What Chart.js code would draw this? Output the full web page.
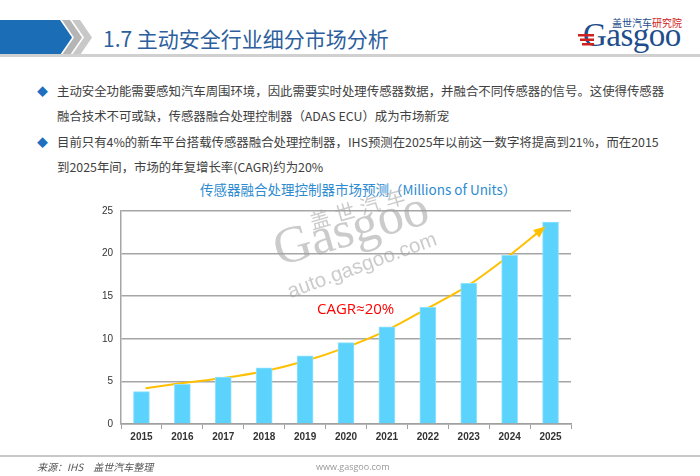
<!DOCTYPE html>
<html>
<head>
<meta charset="utf-8">
<script src="https://cdn.jsdelivr.net/npm/chart.js@4.4.0/dist/chart.umd.min.js"></script>
<style>
  html, body { margin: 0; padding: 0; background: #fff; }
  body { width: 700px; height: 476px; position: relative; overflow: hidden; font-family: "Noto Sans CJK SC", "Open Sans", sans-serif; }
  .abs { position: absolute; }
  #head-title { left: 103px; top: 23px; font-size: 21px; color: #2d5f9e; white-space: nowrap; }
  .dia { left: 37px; color: #1f6fc0; font-size: 11px; }
  .line { left: 57px; font-size: 12.4px; color: #404040; white-space: nowrap; }
  #chart-title { left: 200px; width: 297px; top: 179px; text-align: center; font-size: 13.5px; color: #2e8bd0; white-space: nowrap; }
  #chart-box { left: 80px; top: 195px; width: 510px; height: 250px; }
  #wm { left: 0; top: 0; width: 700px; height: 476px; pointer-events: none; }
  #foot-src { left: 37px; top: 459px; font-size: 10px; font-style: italic; color: #555; }
  #foot-web { left: 316px; top: 460px; font-size: 9px; color: #999; font-family: "Open Sans", sans-serif; }
</style>
</head>
<body>
<svg class="abs" style="left:0;top:0" width="700" height="70">
  <polygon points="0,20 60,20 72,37.5 60,55 0,55" fill="#1b6db6"/>
  <polygon points="62,20 70,20 82,37.5 70,55 62,55 74,37.5" fill="#b5b5b5"/>
  <polygon points="72,20 80,20 92,37.5 80,55 72,55 84,37.5" fill="#c8c8c8"/>
  <rect x="0" y="54" width="700" height="3" fill="#d0d0d0"/>
  <text x="612" y="27" font-size="10" fill="#1f4e8c" font-family="Noto Sans CJK SC">盖世汽车</text>
  <text x="652" y="27" font-size="10" fill="#d02020" font-family="Noto Sans CJK SC">研究院</text>
  <text x="583" y="46" font-size="33" fill="#1f4e8c" font-family="Liberation Serif" letter-spacing="-0.5">Gasgoo</text>
  <rect x="578" y="34" width="16" height="2.5" fill="#d02020"/>
  <rect x="580" y="38.5" width="14" height="2.5" fill="#d02020"/>
  <rect x="582" y="43" width="12" height="2.5" fill="#d02020"/>
</svg>
<div id="head-title" class="abs">1.7 主动安全行业细分市场分析</div>

<div class="abs dia" style="top:83px">◆</div>
<div class="abs line" style="top:82px">主动安全功能需要感知汽车周围环境，因此需要实时处理传感器数据，并融合不同传感器的信号。这使得传感器</div>
<div class="abs line" style="top:107px">融合技术不可或缺，传感器融合处理控制器（ADAS ECU）成为市场新宠</div>
<div class="abs dia" style="top:134px">◆</div>
<div class="abs line" style="top:133px">目前只有4%的新车平台搭载传感器融合处理控制器，IHS预测在2025年以前这一数字将提高到21%，而在2015</div>
<div class="abs line" style="top:158px">到2025年间，市场的年复增长率(CAGR)约为20%</div>

<div id="chart-title" class="abs">传感器融合处理控制器市场预测（Millions of Units）</div>
<div id="chart-box" class="abs"><canvas id="bar-chart"></canvas></div>

<svg id="wm" class="abs">
  <g transform="translate(279,266) rotate(-16)" fill="#a0a0a0" fill-opacity="0.55">
    <text x="0" y="0" font-size="52" font-family="Liberation Serif">Gasgoo</text>
    <text x="42" y="-26" font-size="20" font-family="Noto Sans CJK SC" letter-spacing="6">盖世汽车</text>
    <text x="2" y="34" font-size="20.5" font-family="Liberation Sans" transform="rotate(-4 2 34)">auto.gasgoo.com</text>
  </g>
</svg>

<svg class="abs" style="left:0;top:454px" width="700" height="4"><rect x="0" y="1" width="700" height="2" fill="#c8c8c8"/></svg>
<div id="foot-src" class="abs">来源：IHS　盖世汽车整理</div>
<div id="foot-web" class="abs">www.gasgoo.com</div>

<script>
const years = ['2015', '2016', '2017', '2018', '2019', '2020', '2021', '2022', '2023', '2024', '2025'];
const units = [3.8, 4.65, 5.5, 6.6, 8.0, 9.55, 11.4, 13.7, 16.5, 19.8, 23.7];

// CAGR trend curve, x as category index
const trendX = [0.1, 1, 2, 3, 4, 5, 6, 7, 8, 9, 9.8];
const trendY = [4.2, 4.8, 5.4, 6.2, 7.4, 9.0, 11.0, 13.6, 16.3, 19.8, 22.9];

const yTicks = [0, 5, 10, 15, 20, 25];

// arrow head + CAGR label
const trendExtras = {
  id: 'trendExtras',
  afterDatasetsDraw(chart) {
    const ctx = chart.ctx;
    const pts = chart.getDatasetMeta(1).data;
    const a = pts[pts.length - 2], b = pts[pts.length - 1];
    const ang = Math.atan2(b.y - a.y, b.x - a.x);
    ctx.save();
    ctx.fillStyle = '#ffc000';
    ctx.translate(b.x, b.y);
    ctx.rotate(ang);
    ctx.beginPath();
    ctx.moveTo(4, 0);
    ctx.lineTo(-8, -5);
    ctx.lineTo(-8, 5);
    ctx.closePath();
    ctx.fill();
    ctx.restore();

    const xs = chart.scales.x2, ys = chart.scales.y;
    ctx.save();
    ctx.fillStyle = '#ff0000';
    ctx.font = '15px "Open Sans", sans-serif';
    ctx.textAlign = 'left';
    ctx.textBaseline = 'middle';
    ctx.fillText('CAGR≈20%', xs.getPixelForValue(4.29), ys.getPixelForValue(13.4));
    ctx.restore();
  }
};

new Chart(document.getElementById('bar-chart'), {
  data: {
    labels: years,
    datasets: [
      {
        type: 'bar',
        data: units,
        backgroundColor: '#5cd3fd',
        borderColor: '#8fe2ff',
        borderWidth: 1,
        barThickness: 16,
        grouped: false
      },
      {
        type: 'line',
        xAxisID: 'x2',
        data: trendX.map((x, i) => ({ x: x, y: trendY[i] })),
        borderColor: '#ffc000',
        borderWidth: 2,
        pointRadius: 0,
        cubicInterpolationMode: 'monotone',
        fill: false
      }
    ]
  },
  options: {
    responsive: true,
    maintainAspectRatio: false,
    animation: false,
    layout: { padding: { left: 0, right: 19, top: 16, bottom: 0 } },
    plugins: {
      legend: { display: false },
      tooltip: { enabled: false }
    },
    scales: {
      x: {
        offset: true,
        grid: { offset: true, drawOnChartArea: false, drawTicks: true, tickLength: 5, color: '#a0a0a0' },
        border: { color: '#a0a0a0', width: 1.5 },
        ticks: { color: '#333', padding: 2, font: { family: '"Liberation Sans", sans-serif', size: 10, weight: 'bold' } }
      },
      x2: {
        type: 'linear',
        display: false,
        min: -0.5,
        max: 10.5
      },
      y: {
        min: 0,
        max: 25,
        afterFit(scale) { scale.width = 41; },
        afterBuildTicks(scale) { scale.ticks = yTicks.map(v => ({ value: v })); },
        grid: { color: '#a6a6a6', lineWidth: 1.5, drawTicks: false },
        border: { color: '#a6a6a6', width: 1.5 },
        ticks: { color: '#333', padding: 8, font: { family: '"Liberation Sans", sans-serif', size: 10 } }
      }
    }
  },
  plugins: [trendExtras]
});
</script>
</body>
</html>
